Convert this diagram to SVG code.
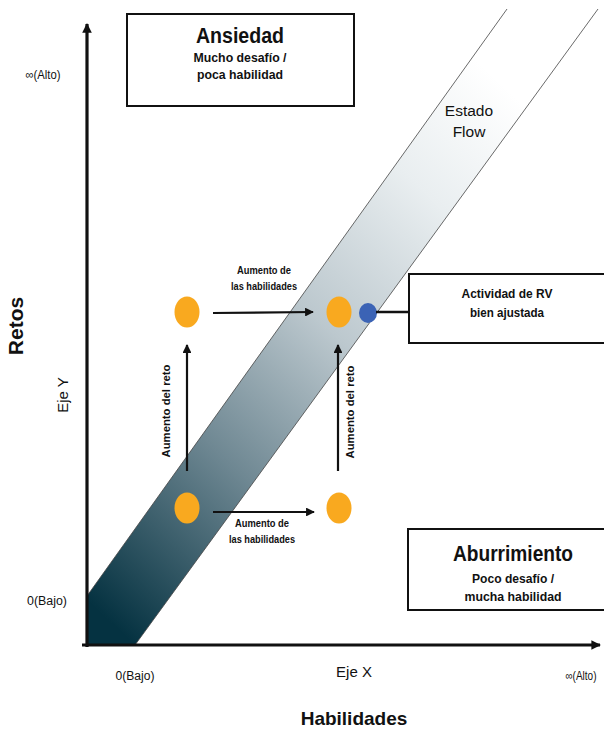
<svg xmlns="http://www.w3.org/2000/svg" width="604" height="730" viewBox="0 0 604 730">
<style>
text{font-family:"Liberation Sans","Arial",sans-serif;fill:#111;}
.b{font-weight:bold;}
.box{fill:#fff;stroke:#111;stroke-width:2;}
.arr{stroke:#111;stroke-width:2.2;fill:none;marker-end:url(#ah);}
.axis{stroke:#111;stroke-width:3.2;fill:none;marker-end:url(#axh);}
.org{fill:#F9A91F;}
</style>
<defs>
<marker id="ah" viewBox="0 0 10 10" refX="9" refY="5" markerWidth="4" markerHeight="4" markerUnits="strokeWidth" orient="auto">
<path d="M0,0 L10,5 L0,10 Z" fill="#111"/>
</marker>
<marker id="axh" viewBox="0 0 10 10" refX="9" refY="5" markerWidth="3.2" markerHeight="3" markerUnits="strokeWidth" orient="auto">
<path d="M0,0 L10,5 L0,10 Z" fill="#111"/>
</marker>
<linearGradient id="flow" gradientUnits="userSpaceOnUse" x1="87" y1="600" x2="540" y2="120">
<stop offset="0" stop-color="#053241"/>
<stop offset="0.3" stop-color="#6f8893"/>
<stop offset="0.55" stop-color="#bcc8ce"/>
<stop offset="0.8" stop-color="#e9eef0"/>
<stop offset="1" stop-color="#ffffff"/>
</linearGradient>
</defs>

<g id="flow-band">
<polygon points="87,596 507,9 598,9 135,645 87,645" fill="url(#flow)" stroke="none"/>
<line x1="87" y1="596" x2="507" y2="9" stroke="#444" stroke-width="0.8"/>
<line x1="135" y1="645" x2="598" y2="9" stroke="#444" stroke-width="0.8"/>
<text x="469" y="116" font-size="15.5" text-anchor="middle">Estado</text>
<text x="469" y="137" font-size="15.5" text-anchor="middle">Flow</text>
</g>

<g id="axes">
<line class="axis" x1="87" y1="647" x2="87" y2="24"/>
<line class="axis" x1="82" y1="645" x2="600" y2="645"/>
<text x="43" y="79" font-size="12.5" text-anchor="middle" textLength="35" lengthAdjust="spacingAndGlyphs">∞(Alto)</text>
<text x="47" y="605" font-size="12.5" text-anchor="middle" textLength="40" lengthAdjust="spacingAndGlyphs">0(Bajo)</text>
<text x="135" y="680" font-size="12.5" text-anchor="middle" textLength="39" lengthAdjust="spacingAndGlyphs">0(Bajo)</text>
<text x="581" y="680" font-size="12.5" text-anchor="middle" textLength="31" lengthAdjust="spacingAndGlyphs">∞(Alto)</text>
<text x="354" y="677" font-size="15" text-anchor="middle">Eje X</text>
<text class="b" x="354" y="725" font-size="19" text-anchor="middle">Habilidades</text>
<text class="b" transform="translate(23,326) rotate(-90)" font-size="21" text-anchor="middle">Retos</text>
<text transform="translate(68,395) rotate(-90)" font-size="15" text-anchor="middle">Eje Y</text>
</g>

<g id="ansiedad">
<rect class="box" x="127" y="14" width="227" height="92"/>
<text class="b" x="240" y="43" font-size="22" text-anchor="middle" textLength="88" lengthAdjust="spacingAndGlyphs">Ansiedad</text>
<text class="b" x="240" y="62" font-size="13" text-anchor="middle" textLength="93" lengthAdjust="spacingAndGlyphs">Mucho desafío /</text>
<text class="b" x="240" y="79" font-size="13" text-anchor="middle" textLength="86" lengthAdjust="spacingAndGlyphs">poca habilidad</text>
</g>

<g id="actividad">
<rect class="box" x="409" y="274" width="205" height="69"/>
<text class="b" x="507" y="298" font-size="13" text-anchor="middle" textLength="91" lengthAdjust="spacingAndGlyphs">Actividad de RV</text>
<text class="b" x="507" y="317" font-size="13" text-anchor="middle" textLength="74" lengthAdjust="spacingAndGlyphs">bien ajustada</text>
</g>

<g id="aburrimiento">
<rect class="box" x="408" y="529" width="206" height="81"/>
<text class="b" x="513" y="561" font-size="22" text-anchor="middle" textLength="120" lengthAdjust="spacingAndGlyphs">Aburrimiento</text>
<text class="b" x="513" y="583" font-size="13" text-anchor="middle" textLength="82" lengthAdjust="spacingAndGlyphs">Poco desafío /</text>
<text class="b" x="513" y="601" font-size="13" text-anchor="middle" textLength="97" lengthAdjust="spacingAndGlyphs">mucha habilidad</text>
</g>

<g id="nodo-bajo-izq"><ellipse class="org" cx="187" cy="508" rx="12.5" ry="15.5"/></g>
<g id="nodo-bajo-der"><ellipse class="org" cx="339" cy="508" rx="12.5" ry="15.5"/></g>
<g id="nodo-alto-izq"><ellipse class="org" cx="187" cy="312" rx="12.5" ry="15.5"/></g>
<g id="nodo-alto-der"><ellipse class="org" cx="339" cy="312" rx="12.5" ry="15.5"/></g>
<g id="nodo-rv"><ellipse cx="368" cy="313" rx="9" ry="10" fill="#3B63B5"/></g>

<g id="connectors">
<line class="arr" x1="213" y1="313" x2="313" y2="312"/>
<line class="arr" x1="213" y1="512" x2="314" y2="512"/>
<line class="arr" x1="187" y1="471" x2="187" y2="345"/>
<line class="arr" x1="338" y1="471" x2="338" y2="345"/>
<line x1="376" y1="312" x2="409" y2="312" stroke="#111" stroke-width="2.5"/>
</g>

<g id="labels">
<text class="b" x="264" y="274" font-size="10.5" text-anchor="middle" textLength="54" lengthAdjust="spacingAndGlyphs">Aumento de</text>
<text class="b" x="264" y="290" font-size="10.5" text-anchor="middle" textLength="66" lengthAdjust="spacingAndGlyphs">las habilidades</text>
<text class="b" x="262" y="527" font-size="10.5" text-anchor="middle" textLength="54" lengthAdjust="spacingAndGlyphs">Aumento de</text>
<text class="b" x="262" y="543" font-size="10.5" text-anchor="middle" textLength="66" lengthAdjust="spacingAndGlyphs">las habilidades</text>
<text class="b" transform="translate(170,411) rotate(-90)" font-size="11" text-anchor="middle" textLength="93" lengthAdjust="spacingAndGlyphs">Aumento del reto</text>
<text class="b" transform="translate(354,412) rotate(-90)" font-size="11" text-anchor="middle" textLength="93" lengthAdjust="spacingAndGlyphs">Aumento del reto</text>
</g>
</svg>
